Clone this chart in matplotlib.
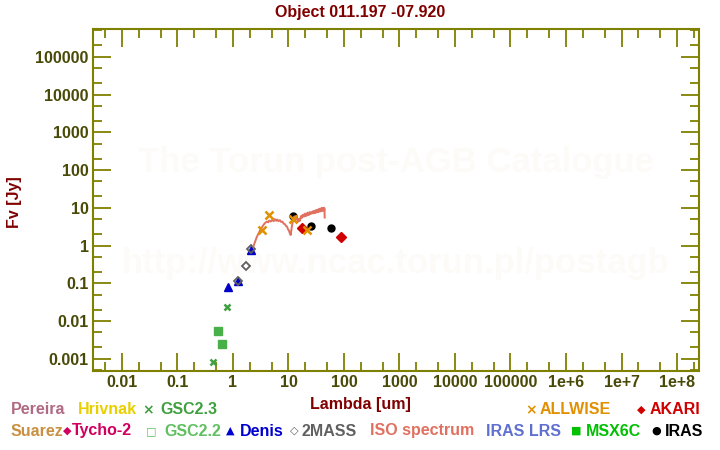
import matplotlib
matplotlib.use("Agg")
import matplotlib.pyplot as plt
from matplotlib.ticker import FixedLocator, FixedFormatter, LogLocator, NullFormatter

plt.rcParams['font.family'] = ['Liberation Sans', 'DejaVu Sans']
plt.rcParams['font.weight'] = 'bold'

# photometry (wavelength in um, flux in Jy)
gsc23_x = [0.44, 0.79]
gsc23_y = [0.00083, 0.023]
gsc22_x = [0.54, 0.64]
gsc22_y = [0.0055, 0.0024]
denis_x = [0.81, 1.25, 2.11]
denis_y = [0.079, 0.116, 0.78]
twomass_x = [1.25, 1.69, 2.11]
twomass_y = [0.116, 0.29, 0.80]
allwise_x = [3.37, 4.5, 11.9, 21.9]
allwise_y = [2.6, 6.5, 4.9, 2.65]
akari_x = [17.5, 89.5]
akari_y = [2.9, 1.7]
iras_x = [11.9, 25.0, 59.0]
iras_y = [6.0, 3.2, 2.9]

# ISO spectrum (hand-read, jagged)
iso_x = [2.35, 2.45, 2.55, 2.65, 2.8, 2.95, 3.1, 3.3, 3.5, 3.7, 3.9, 4.1, 4.3,
         4.5, 4.8, 5.1, 5.4, 5.7, 6.0, 6.3, 6.6, 7.0, 7.4, 7.8, 8.2, 8.6, 9.0,
         9.4, 9.8, 10.2, 10.6, 11.0, 11.3, 11.6, 12.0, 12.4, 12.8, 13.2, 13.6,
         14.0, 14.5, 15.0, 15.5, 16.0, 16.5, 17.0, 17.5, 18.0, 18.5, 19.0, 19.5,
         20.0, 20.5, 21.0, 21.5, 22.0, 22.5, 23.0, 23.5, 24.0, 24.5, 25.0,
         26.0, 27.0, 28.0, 29.0, 30.0, 31.0, 32.0, 33.0, 34.0, 35.0, 36.0,
         37.0, 38.0, 39.0, 40.0, 41.0, 42.0, 43.0, 44.0, 44.5, 45.0]
iso_y = [0.95, 1.15, 1.35, 1.6, 1.9, 2.2, 2.6, 3.0, 3.4, 3.8, 4.1, 4.3, 4.1,
         4.6, 4.3, 4.8, 4.4, 5.0, 4.5, 4.9, 4.4, 4.7, 4.2, 4.3, 3.8, 3.7, 3.3,
         3.2, 2.7, 2.5, 2.1, 1.9, 2.6, 3.4, 4.3, 5.0, 5.9, 5.0, 6.0,
         4.9, 5.0, 4.3, 5.1, 4.5, 5.4, 6.1, 5.4, 6.5, 5.8, 6.6, 5.9,
         7.0, 6.1, 6.9, 6.2, 7.4, 6.4, 7.3, 6.5, 7.7, 6.8, 7.5,
         7.0, 8.0, 7.1, 8.3, 7.2, 8.6, 7.5, 8.8, 7.6, 9.2, 7.9,
         9.5, 8.0, 9.7, 8.2, 9.9, 8.4, 10.0, 8.5, 9.6, 5.5]

xticks = [0.01, 0.1, 1, 10, 100, 1000, 10000, 100000, 1e6, 1e7, 1e8]
xlabels = ["0.01", "0.1", "1", "10", "100", "1000", "10000", "100000",
           "1e+6", "1e+7", "1e+8"]
yticks = [0.001, 0.01, 0.1, 1, 10, 100, 1000, 10000, 100000]
ylabels = ["0.001", "0.01", "0.1", "1", "10", "100", "1000", "10000", "100000"]

olive = '#808000'
tickcol = '#4a4a08'
darkred = '#800000'

fig = plt.figure(figsize=(7.2, 4.5), dpi=100)
ax = fig.add_axes([0.129, 0.176, 0.842, 0.76])
ax.set_xscale('log')
ax.set_yscale('log')
ax.set_xlim(0.003, 2.5e8)
ax.set_ylim(4.8e-4, 5.5e5)

# watermark
ax.text(0.5, 0.61, "The Torun post-AGB Catalogue", transform=ax.transAxes,
        ha='center', va='center', fontsize=25, color='#fdfbf8', zorder=0)
ax.text(0.5, 0.315, "http://www.ncac.torun.pl/postagb", transform=ax.transAxes,
        ha='center', va='center', fontsize=25, color='#fdfbf8', zorder=0)

ax.plot(gsc22_x, gsc22_y, 's', ms=5.5, color='#48b048', zorder=3)
ax.plot(gsc23_x, gsc23_y, 'x', ms=5, mew=1.8, color='#40a040', zorder=3)
ax.plot(denis_x, denis_y, '^', ms=5.5, color='#0000c8', zorder=3)
ax.plot(twomass_x, twomass_y, 'D', ms=4.5, mfc='none', mec='#606060', mew=1.3, zorder=4)
ax.plot(iras_x, iras_y, 'o', ms=5, color='black', zorder=3)
ax.plot(iso_x, iso_y, '-', lw=1.4, color='#e07060', zorder=4)
ax.plot(akari_x, akari_y, 'D', ms=5, color='#d00000', zorder=5)
ax.plot(allwise_x, allwise_y, 'x', ms=6, mew=1.8, color='#e09000', zorder=6)

for s in ax.spines.values():
    s.set_color(olive)
    s.set_linewidth(1.5)

ax.xaxis.set_major_locator(FixedLocator(xticks))
ax.xaxis.set_major_formatter(FixedFormatter(xlabels))
ax.yaxis.set_major_locator(FixedLocator(yticks))
ax.yaxis.set_major_formatter(FixedFormatter(ylabels))
ax.xaxis.set_minor_locator(LogLocator(base=10, subs=(2, 5), numticks=30))
ax.yaxis.set_minor_locator(LogLocator(base=10, subs=(2, 5), numticks=30))
ax.xaxis.set_minor_formatter(NullFormatter())
ax.yaxis.set_minor_formatter(NullFormatter())
ax.tick_params(which='both', direction='in', top=True, right=True, color=olive,
               width=1.3, labelcolor=tickcol, labelsize=11.5, pad=3)
ax.tick_params(which='major', length=13)
ax.tick_params(which='minor', length=6.5)

fig.text(0.5, 0.973, "Object 011.197 -07.920", ha='center', va='center',
         fontsize=11.5, color=darkred)
fig.text(0.5, 0.102, "Lambda [um]", ha='center', va='center',
         fontsize=11.5, color=darkred)
fig.text(0.02, 0.55, "Fv [Jy]", ha='center', va='center', rotation=90,
         fontsize=11.5, color=darkred)

# legend rows, drawn as plain text
r1 = 1 - 410 / 450
r2 = 1 - 431 / 450
legend_items = [
    (11, r1, "Pereira", '#b06a84'),
    (78, r1, "Hrivnak", '#e8d000'),
    (160, r1, "GSC2.3", '#40a040'),
    (540, r1, "ALLWISE", '#e09000'),
    (650, r1, "AKARI", '#d00000'),
    (11, r2, "Suarez", '#c89040'),
    (72, r2, "Tycho-2", '#d00060'),
    (164, r2, "GSC2.2", '#60c060'),
    (240, r2, "Denis", '#0000d0'),
    (301, r2, "2MASS", '#606060'),
    (370, r2, "ISO spectrum", '#e07060'),
    (486, r2, "IRAS LRS", '#6070d0'),
    (586, r2, "MSX6C", '#00c000'),
    (665, r2, "IRAS", 'black'),
]
for px, yy, label, col in legend_items:
    fig.text(px / 720, yy, label, ha='left', va='center', fontsize=11.5, color=col)

legend_syms = [
    (148, r1, "\u00d7", '#40a040', 10),
    (531, r1, "\u00d7", '#e09000', 10),
    (641, r1, "\u25c6", '#d00000', 8),
    (67, r2, "\u25c6", '#d00060', 8),
    (151, r2, "\u25a1", '#60c060', 8),
    (230, r2, "\u25b2", '#0000d0', 8),
    (294, r2, "\u25c7", '#606060', 8),
    (576, r2, "\u25a0", '#00c000', 8),
    (656, r2, "\u25cf", 'black', 8),
]
for px, yy, sym, col, fs in legend_syms:
    fig.text(px / 720, yy, sym, ha='center', va='center', fontsize=fs,
             color=col, family=['DejaVu Sans'])

fig.savefig("out.png", dpi=100)
